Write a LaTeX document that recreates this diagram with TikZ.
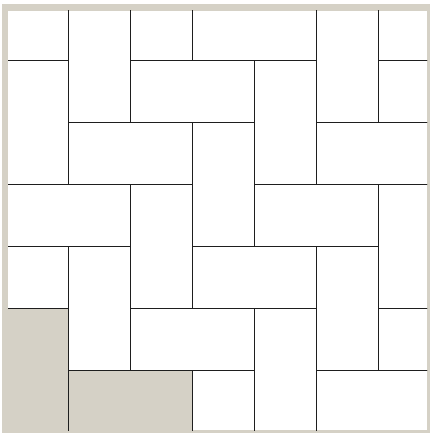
\documentclass[tikz,border=0pt]{standalone}
\usepackage{tikz}
\usepackage{xcolor}
\definecolor{tilebeige}{RGB}{213,209,198}
\definecolor{tileink}{RGB}{30,30,30}

\begin{document}
\begin{tikzpicture}[x=1pt,y=-1pt,
    tileline/.style={draw=tileink,line width=0.9pt}]
    \useasboundingbox (0,0) rectangle (430,433);
    % frame
    \fill[tilebeige] (2,4) rectangle (430,433);
    \fill[white] (8,11) rectangle (427,430);

    \begin{scope}
        \clip (8,11) rectangle (427,430);
        \begin{scope}[shift={(6,-2)},x=62pt,y=-62pt]
            \fill[tilebeige] (0,5) rectangle (1,7);
            \fill[tilebeige] (1,6) rectangle (3,7);
            % herringbone: lying tiles on c+r=4k-1, standing tiles on c+r=4k+1
            \foreach \r in {-1,...,7}{
                \foreach \k in {-1,...,4}{
                    \pgfmathtruncatemacro{\ch}{4*\k-1-\r}
                    \pgfmathtruncatemacro{\cv}{4*\k+1-\r}
                    \draw[tileline] (\ch,\r) rectangle ++(2,1);
                    \draw[tileline] (\cv,\r) rectangle ++(1,2);
                }
            }
        \end{scope}
    \end{scope}
\end{tikzpicture}
\end{document}
